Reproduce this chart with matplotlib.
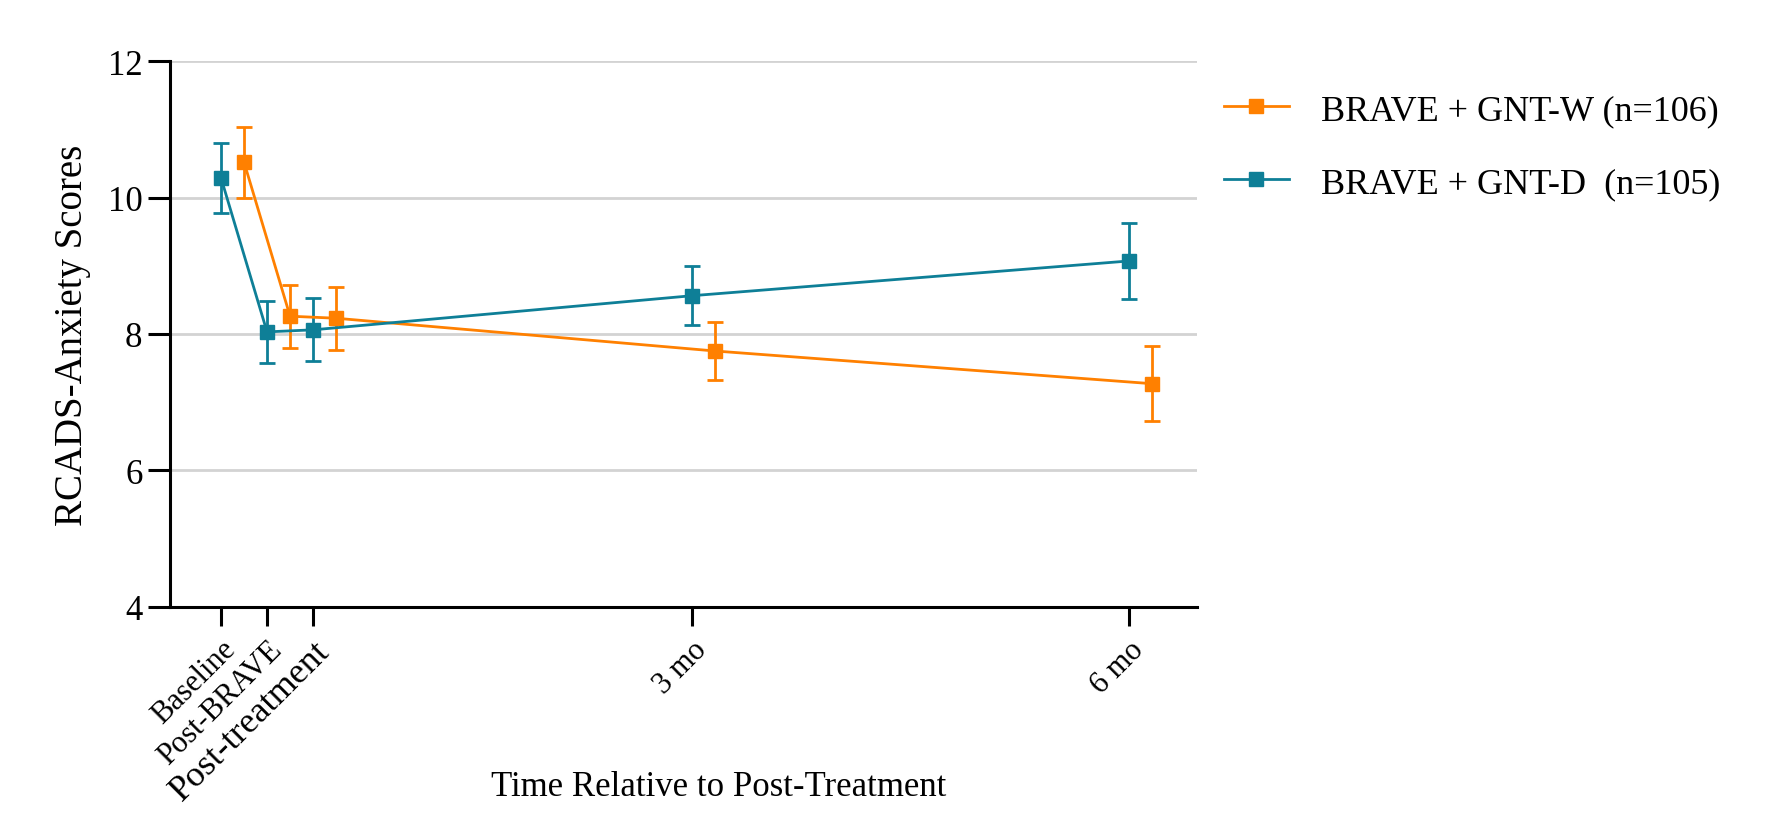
import matplotlib
matplotlib.use("Agg")
import matplotlib.pyplot as plt
from matplotlib.lines import Line2D

# time points (x positions in plot units) and tick labels
tick_labels = ["Baseline", "Post-BRAVE", "Post-treatment", "3 mo", "6 mo"]
time_pos = [0, 1, 2, 10.22, 19.72]
offset_w = 0.5  # GNT-W points are shifted a little to the right

# group means and error bars
gnt_w_mean = [10.52, 8.26, 8.23, 7.75, 7.27]
gnt_w_err = [0.52, 0.46, 0.46, 0.42, 0.55]
gnt_d_mean = [10.29, 8.03, 8.06, 8.56, 9.07]
gnt_d_err = [0.51, 0.46, 0.46, 0.43, 0.56]

labels = ["BRAVE + GNT-W (n=106)", "BRAVE + GNT-D  (n=105)"]
orange = "#FF8000"
teal = "#0E7F97"

plt.rcParams["font.family"] = ["Liberation Serif", "DejaVu Serif"]

fig = plt.figure(figsize=(17.74, 8.28), dpi=100)
ax = fig.add_axes([0.096, 0.266, 0.579, 0.659])

xw = [t + offset_w for t in time_pos]
ax.errorbar(xw, gnt_w_mean, yerr=gnt_w_err, color=orange, marker="s",
            markersize=10, linewidth=2, elinewidth=2, capsize=6,
            capthick=2, zorder=3)
ax.errorbar(time_pos, gnt_d_mean, yerr=gnt_d_err, color=teal, marker="s",
            markersize=10, linewidth=2, elinewidth=2, capsize=6,
            capthick=2, zorder=3)

ax.set_ylim(4, 12)
ax.set_yticks([4, 6, 8, 10, 12])
ax.set_xlim(-1.1, 21.2)
ax.set_xticks(time_pos)
ax.set_xticklabels(tick_labels, rotation=45, ha="right",
                   rotation_mode="anchor")
for lab in ax.get_xticklabels():
    lab.set_fontsize(26 if lab.get_text() == "Post-treatment" else 22)

# light horizontal grid
for g in [6, 8, 10, 12]:
    ax.axhline(g, color="#D3D3D3", linewidth=2, zorder=0)

for side in ["top", "right"]:
    ax.spines[side].set_visible(False)
for side in ["left", "bottom"]:
    ax.spines[side].set_linewidth(2.2)
ax.tick_params(axis="y", length=16, width=2.2, labelsize=25, pad=4)
ax.tick_params(axis="x", length=14, width=2.2, pad=6)

ax.set_ylabel("RCADS-Anxiety Scores", fontsize=28, labelpad=12)
ax.set_xlabel("Time Relative to Post-Treatment", fontsize=25)
ax.xaxis.set_label_coords(0.534, -0.30)

# legend shows line + marker only (no error bars)
handles = [Line2D([], [], color=orange, marker="s", markersize=10, linewidth=2),
           Line2D([], [], color=teal, marker="s", markersize=10, linewidth=2)]
ax.legend(handles, labels, loc="upper left", bbox_to_anchor=(0.994, 1.0),
          frameon=False, fontsize=26, handlelength=1.8, handletextpad=0.9,
          labelspacing=1.1)

fig.savefig("out.png", dpi=100)
